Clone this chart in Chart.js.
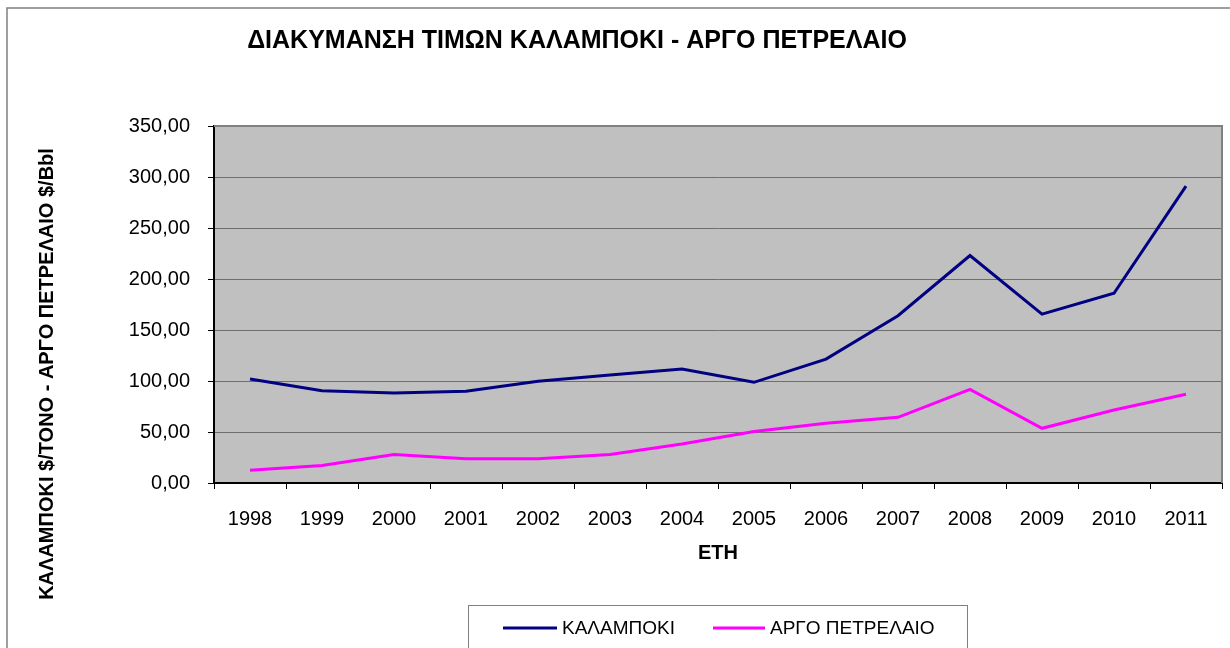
<!DOCTYPE html>
<html lang="el">
<head>
<meta charset="utf-8">
<title>ΔΙΑΚΥΜΑΝΣΗ ΤΙΜΩΝ ΚΑΛΑΜΠΟΚΙ - ΑΡΓΟ ΠΕΤΡΕΛΑΙΟ</title>
<script src="https://cdn.jsdelivr.net/npm/chart.js@4/dist/chart.umd.min.js"></script>
<style>
    html, body { margin: 0; padding: 0; background: #fff; }
    #wrap { width: 1230px; height: 648px; }
</style>
</head>
<body>
<div id="wrap"><canvas id="priceChart" width="1230" height="648"></canvas></div>
<script>
// Δεδομένα
const years = ['1998', '1999', '2000', '2001', '2002', '2003', '2004', '2005', '2006', '2007', '2008', '2009', '2010', '2011'];
const cornPrices = [102, 90.5, 88.3, 90, 99.7, 105.8, 111.7, 98.7, 121.5, 164, 223, 165.6, 186, 291];
const oilPrices = [12.6, 17.1, 27.9, 23.7, 23.7, 27.9, 38.3, 50.5, 58.5, 64.4, 91.8, 53.6, 71.5, 87];
const seriesNames = ['ΚΑΛΑΜΠΟΚΙ', 'ΑΡΓΟ ΠΕΤΡΕΛΑΙΟ'];
const seriesColors = ['#000080', '#FF00FF'];
const yTicks = { min: 0, max: 350, step: 50 };

const chartTitle = 'ΔΙΑΚΥΜΑΝΣΗ ΤΙΜΩΝ ΚΑΛΑΜΠΟΚΙ - ΑΡΓΟ ΠΕΤΡΕΛΑΙΟ';
const yTitle = 'ΚΑΛΑΜΠΟΚΙ $/ΤΟΝΟ - ΑΡΓΟ ΠΕΤΡΕΛΑΙΟ $/Bbl';
const xTitle = 'ΕΤΗ';

const FONT = '"Liberation Sans", Arial, sans-serif';

// Γκρι φόντο περιοχής γραφήματος + πλαίσιο
const plotFrame = {
    id: 'plotFrame',
    beforeDraw(chart) {
        const { ctx, chartArea: a } = chart;
        ctx.save();
        ctx.fillStyle = '#C0C0C0';
        ctx.fillRect(a.left, a.top, a.right - a.left, a.bottom - a.top);
        ctx.restore();
    },
    beforeDatasetsDraw(chart) {
        const { ctx, chartArea: a } = chart;
        ctx.save();
        ctx.strokeStyle = '#808080';
        ctx.lineWidth = 2;
        ctx.beginPath();
        ctx.moveTo(a.left, a.top);
        ctx.lineTo(a.right, a.top);
        ctx.lineTo(a.right, a.bottom);
        ctx.stroke();
        ctx.restore();
    }
};

// Τίτλοι, υπόμνημα και εξωτερικό πλαίσιο
const textsAndLegend = {
    id: 'textsAndLegend',
    afterDraw(chart) {
        const { ctx, chartArea: a } = chart;
        ctx.save();

        // εξωτερικό πλαίσιο (πάνω / αριστερά)
        ctx.strokeStyle = '#808080';
        ctx.lineWidth = 1.5;
        ctx.beginPath();
        ctx.moveTo(7, 648);
        ctx.lineTo(7, 8);
        ctx.lineTo(1230, 8);
        ctx.stroke();

        ctx.fillStyle = '#000';
        ctx.textBaseline = 'middle';

        // κύριος τίτλος
        ctx.font = 'bold 25px ' + FONT;
        ctx.textAlign = 'center';
        ctx.fillText(chartTitle, 577, 41);

        // τίτλος άξονα x
        ctx.font = 'bold 20px ' + FONT;
        ctx.fillText(xTitle, (a.left + a.right) / 2, 553);

        // τίτλος άξονα y
        ctx.save();
        ctx.translate(47, 374);
        ctx.rotate(-Math.PI / 2);
        ctx.fillText(yTitle, 0, 0);
        ctx.restore();

        // υπόμνημα
        ctx.strokeStyle = '#808080';
        ctx.lineWidth = 1;
        ctx.strokeRect(468.5, 605.5, 499, 60);

        const items = [
            { x0: 503, x1: 557, tx: 562 },
            { x0: 713, x1: 765, tx: 770 }
        ];
        ctx.font = '19px ' + FONT;
        ctx.textAlign = 'left';
        items.forEach((it, i) => {
            ctx.strokeStyle = seriesColors[i];
            ctx.lineWidth = 3;
            ctx.beginPath();
            ctx.moveTo(it.x0, 628);
            ctx.lineTo(it.x1, 628);
            ctx.stroke();
            ctx.fillText(seriesNames[i], it.tx, 629);
        });

        ctx.restore();
    }
};

const datasets = [cornPrices, oilPrices].map((values, i) => ({
    label: seriesNames[i],
    data: values,
    borderColor: seriesColors[i],
    backgroundColor: seriesColors[i],
    borderWidth: 3,
    pointRadius: 0,
    tension: 0,
    fill: false
}));

new Chart(document.getElementById('priceChart').getContext('2d'), {
    type: 'line',
    data: { labels: years, datasets },
    options: {
        responsive: false,
        animation: false,
        layout: { padding: { left: 0, top: 126, right: 8, bottom: 0 } },
        plugins: {
            legend: { display: false },
            title: { display: false },
            tooltip: { enabled: false }
        },
        scales: {
            x: {
                offset: true,
                grid: {
                    offset: true,
                    drawOnChartArea: false,
                    drawTicks: true,
                    tickLength: 6,
                    tickColor: '#000'
                },
                border: { color: '#000', width: 2 },
                ticks: {
                    color: '#000',
                    font: { family: FONT, size: 20 },
                    padding: 18,
                    maxRotation: 0,
                    autoSkip: false
                },
                afterFit(scale) { scale.height = 165; }
            },
            y: {
                min: yTicks.min,
                max: yTicks.max,
                grid: {
                    color: '#6e6e6e',
                    lineWidth: 1,
                    tickLength: 6,
                    tickColor: '#000'
                },
                border: { color: '#000', width: 2 },
                ticks: {
                    stepSize: yTicks.step,
                    color: '#000',
                    font: { family: FONT, size: 20 },
                    padding: 18,
                    callback: (v) => v.toFixed(2).replace('.', ',')
                },
                afterFit(scale) { scale.width = 214; }
            }
        }
    },
    plugins: [plotFrame, textsAndLegend]
});
</script>
</body>
</html>
